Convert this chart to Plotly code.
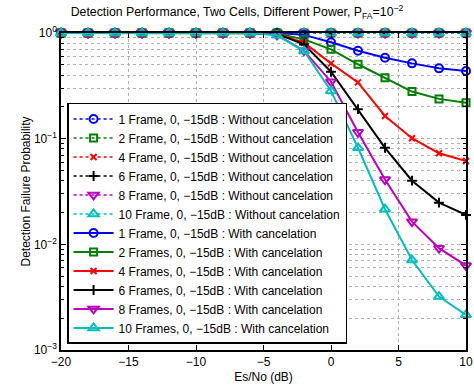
import plotly.graph_objects as go

esno = [-20, -18, -16, -14, -12, -10, -8, -6, -4, -2, 0, 2, 4, 6, 8, 10]

frames = [1, 2, 4, 6, 8, 10]
without_vals = {
    1: [1.0] * 16,
    2: [1.0] * 16,
    4: [1.0] * 16,
    6: [1.0] * 16,
    8: [1.0] * 16,
    10: [1.0] * 16,
}
with_1 = [1, 1, 1, 1, 1, 1, 1, 1, 1.0, 0.96, 0.816, 0.68, 0.584, 0.516, 0.463, 0.437]
with_2 = [1, 1, 1, 1, 1, 1, 1, 1, 0.99, 0.87, 0.70, 0.506, 0.378, 0.279, 0.238, 0.219]
with_4 = [1, 1, 1, 1, 1, 1, 1, 1, 0.98, 0.81, 0.516, 0.341, 0.164, 0.101, 0.0727, 0.0615]
with_6 = [1, 1, 1, 1, 1, 1, 1, 1, 0.98, 0.78, 0.43, 0.19, 0.082, 0.040, 0.0248, 0.019]
with_8 = [1, 1, 1, 1, 1, 1, 1, 1, 0.96, 0.68, 0.346, 0.115, 0.041, 0.0164, 0.0092, 0.0063]
with_10 = [1, 1, 1, 1, 1, 1, 1, 1, 0.95, 0.675, 0.283, 0.082, 0.0215, 0.0071, 0.0032, 0.00215]
with_vals = {1: with_1, 2: with_2, 4: with_4, 6: with_6, 8: with_8, 10: with_10}

colors = {1: "#0000ff", 2: "#008000", 4: "#ff0000", 6: "#000000", 8: "#bf00bf", 10: "#00bfbf"}
symbols = {1: "circle-open", 2: "square-open", 4: "x-thin-open", 6: "cross-thin-open",
           8: "triangle-down-open", 10: "triangle-up-open"}
sizes = {1: 8, 2: 7, 4: 6, 6: 7, 8: 9, 10: 9}

fig = go.Figure()
for f in frames:
    fig.add_trace(go.Scatter(
        x=esno, y=without_vals[f], mode="lines+markers",
        name=f"{f} Frame, 0, \u221215dB : Without cancelation",
        line=dict(color=colors[f], width=1.5, dash="dot"),
        marker=dict(symbol=symbols[f], size=sizes[f], color=colors[f], line=dict(width=2, color=colors[f])),
        cliponaxis=False,
    ))
for f in frames:
    nm = "Frame" if f == 1 else "Frames"
    fig.add_trace(go.Scatter(
        x=esno, y=with_vals[f], mode="lines+markers",
        name=f"{f} {nm}, 0, \u221215dB : With cancelation",
        line=dict(color=colors[f], width=2),
        marker=dict(symbol=symbols[f], size=sizes[f], color=colors[f], line=dict(width=2, color=colors[f])),
        cliponaxis=False,
    ))

minor_vals = [m * 10 ** e for e in (-3, -2, -1) for m in range(2, 10)]

fig.update_layout(
    template="none",
    width=474, height=391,
    margin=dict(l=61, r=8, t=33, b=41, autoexpand=False),
    paper_bgcolor="white", plot_bgcolor="white",
    font=dict(family="Liberation Sans, Arial, sans-serif", size=12, color="black"),
    title=dict(text="Detection Performance, Two Cells, Different Power, P<sub>FA</sub>=10<sup>\u22122</sup>",
               x=0.5, xanchor="center", y=0.97, yanchor="middle", font=dict(size=12.3)),
    showlegend=True,
    legend=dict(x=0.015, y=0.019, xanchor="left", yanchor="bottom",
                bgcolor="white", bordercolor="black", borderwidth=1.5,
                font=dict(size=12), tracegroupgap=0, itemwidth=40),
    xaxis=dict(range=[-20, 10], tickvals=[-20, -15, -10, -5, 0, 5, 10],
               ticktext=["\u221220", "\u221215", "\u221210", "\u22125", "0", "5", "10"],
               showgrid=True, gridcolor="#b0b0b0", griddash="dot", gridwidth=1,
               ticks="inside", ticklen=5, tickcolor="black", showline=True, linecolor="black",
               linewidth=1.5, mirror="ticks", zeroline=False, automargin=False,
               title=dict(text="Es/No (dB)", standoff=4, font=dict(size=12))),
    yaxis=dict(type="log", range=[-3, 0], tickvals=[1e-3, 1e-2, 1e-1, 1],
               ticktext=["10<sup>\u22123</sup>", "10<sup>\u22122</sup>", "10<sup>\u22121</sup>", "10<sup>0</sup>"],
               showgrid=True, gridcolor="#b0b0b0", griddash="dot", gridwidth=1,
               ticks="inside", ticklen=5, tickcolor="black", showline=True, linecolor="black",
               linewidth=1.5, mirror="ticks", zeroline=False, automargin=False,
               minor=dict(tickvals=minor_vals, ticks="inside", ticklen=3, tickcolor="black",
                          showgrid=True, gridcolor="#b0b0b0", griddash="dot", gridwidth=1),
               title=dict(text="Detection Failure Probability", standoff=1, font=dict(size=12))),
)

fig.write_html("out.html", config={"displayModeBar": False},
               post_script="document.body.style.margin='0';")
